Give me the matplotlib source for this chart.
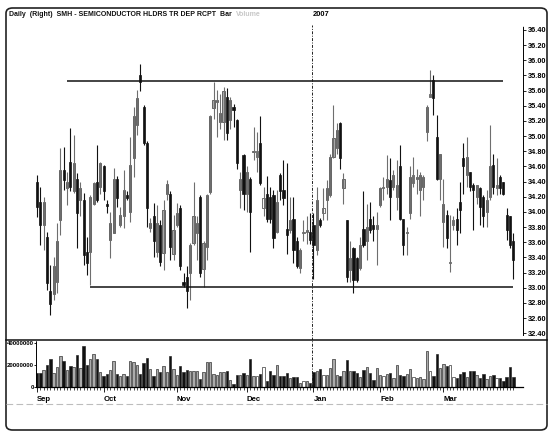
import matplotlib
matplotlib.use("Agg")
import matplotlib.pyplot as plt
from matplotlib.patches import FancyBboxPatch
from matplotlib.lines import Line2D
import numpy as np

# daily OHLC, Sep 2006 - Mar 2007
opens = [34.40, 34.13, 33.83, 33.67, 32.95, 32.92, 33.08, 33.89, 34.55, 34.31,
         34.66, 34.27, 34.44, 34.16, 34.16, 33.47, 33.47, 34.11, 34.40, 34.33,
         34.60, 34.10, 33.63, 33.72, 34.44, 33.83, 33.94, 34.22, 34.00, 34.71,
         35.15, 35.81, 35.39, 34.91, 33.79, 33.94, 33.47, 33.83, 33.46, 34.24,
         34.24, 33.45, 33.83, 34.05, 33.08, 33.14, 33.19, 33.59, 33.72, 34.20,
         33.25, 33.54, 34.26, 35.37, 35.45, 35.19, 35.19, 35.52, 35.21, 35.39,
         35.21, 34.29, 34.75, 34.24, 34.44, 34.79, 34.73, 34.91, 34.05, 34.24,
         34.20, 34.22, 33.74, 34.49, 34.29, 33.78, 33.76, 33.91, 33.61, 33.26,
         33.72, 33.74, 33.74, 33.83, 33.50, 33.89, 33.98, 34.16, 34.22, 34.73,
         34.84, 35.17, 34.31, 33.89, 33.23, 33.52, 33.39, 33.26, 33.78, 33.61,
         33.91, 33.83, 33.78, 34.09, 34.31, 34.33, 34.42, 34.33, 34.20, 34.60,
         33.91, 33.72, 33.98, 34.38, 34.44, 34.29, 34.33, 35.06, 35.52, 35.74,
         34.99, 34.44, 33.87, 33.96, 33.32, 33.83, 33.91, 34.13, 34.71, 34.49,
         34.53, 34.35, 34.20, 34.31, 34.20, 34.00, 34.20, 34.62, 34.31, 34.46,
         34.40, 33.96, 33.94, 33.61]
highs = [34.49, 34.33, 34.20, 33.74, 33.30, 33.41, 33.85, 34.84, 34.86, 34.53,
         35.11, 35.01, 34.51, 34.40, 34.25, 33.67, 34.22, 34.40, 34.88, 34.66,
         34.62, 34.16, 34.00, 34.58, 34.47, 34.07, 34.55, 34.27, 34.99, 35.39,
         35.61, 35.95, 35.41, 34.93, 33.92, 34.12, 34.09, 33.89, 34.16, 34.42,
         34.27, 33.96, 34.12, 34.09, 33.19, 33.28, 33.59, 34.40, 33.94, 34.22,
         33.61, 34.24, 35.28, 35.72, 35.61, 35.56, 35.65, 35.63, 35.52, 35.43,
         35.23, 34.53, 34.77, 34.60, 34.46, 35.12, 35.06, 35.26, 34.33, 34.48,
         34.33, 34.29, 34.29, 34.51, 34.68, 34.64, 34.20, 34.20, 33.67, 33.52,
         33.89, 33.94, 33.98, 33.98, 34.33, 33.92, 34.31, 34.42, 34.77, 35.41,
         35.17, 35.19, 34.51, 33.89, 33.61, 33.54, 33.41, 33.67, 34.27, 34.11,
         34.13, 33.94, 34.00, 34.33, 34.46, 34.75, 34.71, 34.55, 34.68, 34.88,
         33.91, 33.80, 34.60, 34.73, 34.57, 34.53, 34.49, 35.41, 35.87, 35.81,
         35.28, 34.77, 34.44, 34.02, 33.96, 33.94, 34.05, 34.40, 34.91, 34.99,
         34.53, 34.38, 34.35, 34.33, 34.22, 34.29, 35.15, 34.77, 34.71, 34.49,
         34.40, 34.05, 33.94, 33.72]
lows = [33.93, 33.56, 33.50, 32.97, 32.64, 32.84, 32.93, 33.69, 34.29, 34.09,
        34.27, 34.25, 33.52, 33.94, 33.30, 33.17, 33.03, 34.09, 34.13, 34.24,
        34.16, 33.98, 33.39, 33.72, 34.07, 33.80, 33.79, 34.16, 33.87, 34.46,
        35.01, 35.59, 34.88, 33.80, 33.74, 33.41, 33.41, 33.28, 33.23, 34.16,
        33.36, 33.36, 33.80, 33.23, 33.01, 32.73, 32.84, 33.56, 33.36, 33.14,
        33.01, 33.36, 34.24, 35.23, 34.99, 35.10, 34.95, 34.95, 35.10, 35.12,
        34.57, 34.05, 34.02, 34.00, 33.47, 34.68, 34.53, 34.35, 33.94, 33.87,
        33.85, 33.52, 33.72, 34.16, 34.09, 33.45, 33.72, 33.32, 33.26, 33.19,
        33.61, 33.58, 33.58, 33.12, 33.43, 33.80, 33.89, 33.89, 34.20, 34.71,
        34.77, 34.57, 34.11, 33.08, 33.08, 32.93, 33.08, 33.23, 33.54, 33.36,
        33.72, 33.61, 33.30, 34.07, 34.16, 34.24, 33.89, 34.29, 34.02, 33.89,
        33.43, 33.43, 33.91, 34.33, 34.24, 33.94, 34.16, 34.93, 35.52, 35.28,
        34.42, 34.16, 33.54, 33.52, 33.21, 33.76, 33.56, 33.72, 34.24, 34.33,
        34.27, 33.76, 34.11, 33.83, 33.80, 33.80, 34.16, 34.24, 34.22, 34.24,
        34.22, 33.63, 33.52, 33.12]
closes = [34.07, 33.83, 34.13, 33.06, 32.79, 33.28, 33.61, 34.55, 34.42, 34.40,
          34.33, 34.64, 33.98, 34.31, 33.43, 33.32, 34.20, 34.38, 34.16, 34.64,
          34.27, 34.08, 33.85, 34.44, 34.18, 33.96, 34.29, 34.18, 34.62, 35.26,
          35.50, 35.72, 34.91, 34.05, 33.86, 33.61, 33.85, 33.34, 34.02, 34.37,
          33.54, 33.76, 33.98, 33.28, 33.03, 32.95, 33.56, 33.94, 33.85, 33.19,
          33.59, 34.22, 35.26, 35.48, 35.46, 35.30, 35.59, 35.04, 35.48, 35.34,
          34.64, 34.44, 34.24, 34.53, 34.00, 34.80, 34.80, 34.38, 34.18, 33.91,
          33.91, 33.65, 34.13, 34.27, 34.18, 33.69, 33.89, 33.50, 33.28, 33.50,
          33.74, 33.75, 33.63, 33.56, 34.16, 33.83, 34.05, 34.31, 34.73, 34.97,
          35.08, 34.71, 34.43, 33.14, 33.39, 33.10, 33.10, 33.56, 33.56, 33.80,
          33.76, 33.78, 33.83, 34.31, 34.33, 34.44, 34.20, 34.49, 34.35, 33.91,
          33.56, 33.73, 34.46, 34.49, 34.45, 34.49, 34.46, 35.39, 35.56, 35.50,
          34.44, 34.77, 34.11, 33.65, 33.34, 33.89, 33.76, 34.02, 34.60, 34.73,
          34.33, 34.29, 34.35, 34.07, 33.94, 34.16, 34.60, 34.33, 34.35, 34.31,
          34.24, 33.76, 33.56, 33.36]
# volume in millions of shares
volume = [12.7, 12.7, 15.8, 20.3, 25.8, 12.7, 18.2, 28.5, 23.9, 15.2,
          19.4, 17.9, 29.4, 17.3, 37.6, 19.7, 25.5, 30.0, 25.5, 13.3,
          9.7, 12.1, 15.8, 23.9, 12.1, 9.7, 12.1, 9.7, 23.3, 22.7,
          19.7, 12.1, 21.8, 26.1, 16.7, 9.7, 16.4, 13.3, 18.8, 13.9,
          28.5, 16.7, 11.2, 19.4, 13.6, 15.2, 14.8, 14.5, 14.8, 7.6,
          13.6, 22.4, 22.4, 12.1, 10.9, 13.3, 13.3, 14.2, 6.7, 2.7,
          10.9, 10.9, 12.4, 10.9, 25.8, 9.7, 9.7, 12.1, 18.2, 5.8,
          14.5, 11.2, 20.3, 9.7, 10.3, 12.7, 8.2, 9.1, 9.1, 3.6,
          5.2, 5.5, 3.6, 13.3, 14.2, 16.4, 11.2, 10.6, 17.3, 25.5,
          11.2, 10.3, 14.8, 24.8, 14.2, 14.8, 12.7, 9.1, 15.8, 17.9,
          12.7, 6.7, 17.3, 11.2, 9.7, 11.8, 12.7, 8.2, 20.3, 11.2,
          10.3, 12.1, 16.4, 8.8, 8.2, 8.8, 7.6, 33.0, 14.2, 10.3,
          30.3, 17.3, 20.9, 18.8, 19.7, 9.1, 8.2, 12.1, 13.3, 9.1,
          14.2, 14.2, 11.2, 8.2, 11.8, 7.3, 10.3, 11.2, 7.9, 8.5,
          5.8, 9.1, 17.9, 9.1]
hollow_days = [66, 68, 80, 86, 104, 113, 118, 124, 125, 138]

month_labels = ['Sep', 'Oct', 'Nov', 'Dec', 'Jan', 'Feb', 'Mar']
month_starts = [0, 20, 42, 63, 83, 103, 122]
year_label = '2007'
year_start = 83
price_ticks = [32.40 + 0.20 * k for k in range(21)]
vol_ticks = [0, 20, 40]
# drawn trend lines: (price, first day, last day)
resistance = (35.73, 9, 140)
support = (33.01, 16, 143)

plt.rcParams['font.family'] = ['Liberation Sans', 'DejaVu Sans']
plt.rcParams['font.weight'] = 'bold'

W, H = 550, 437
fig = plt.figure(figsize=(W / 100, H / 100), dpi=100)

def fx(px):
    return px / W

def fy(py):
    return 1 - py / H

n = len(closes)
idx = np.arange(n)
o = np.array(opens); c = np.array(closes)
hi = np.array(highs); lo = np.array(lows)

kind = np.where(c < o, 'down', 'up').astype(object)
kind[hollow_days] = 'flat'
fill = {'down': '#111111', 'up': '#ababab', 'flat': 'white'}
wick = {'down': '#111111', 'up': '#6e6e6e', 'flat': '#6e6e6e'}
edge = {'down': '#111111', 'up': '#3a3a3a', 'flat': '#3a3a3a'}
fills = [fill[k] for k in kind]
wicks = [wick[k] for k in kind]
edges = [edge[k] for k in kind]

x_lo, x_hi = -9.3, 145.9

# price panel
ax = fig.add_axes([fx(6), fy(340), fx(523) - fx(6), fy(8) - fy(340)])
ax.vlines(idx, lo, hi, colors=wicks, linewidth=0.8)
body_h = np.maximum(np.abs(c - o), 0.02)
ax.bar(idx, body_h, bottom=np.minimum(o, c), width=0.64, color=fills,
       edgecolor=edges, linewidth=0.5)
ax.hlines(resistance[0], resistance[1], resistance[2], color='#111111', linewidth=1.1)
ax.hlines(support[0], support[1], support[2], color='#111111', linewidth=1.1)
ax.set_xlim(x_lo, x_hi)
ax.set_ylim(32.31, 36.69)
for s in ['top', 'left', 'bottom']:
    ax.spines[s].set_visible(False)
ax.spines['right'].set_linestyle((0, (1, 1)))
ax.spines['right'].set_linewidth(0.7)
ax.spines['right'].set_bounds(32.38, 36.45)
ax.yaxis.tick_right()
ax.set_yticks(price_ticks)
ax.set_yticklabels(['%.2f' % t for t in price_ticks])
ax.tick_params(axis='y', length=2, width=0.6, pad=1.5, labelsize=5.3)
ax.set_xticks([])

ax.axvline(year_start - 0.4, ymin=0.0, ymax=0.95, color='#222222', linewidth=0.7,
           dashes=(3, 1.5, 1, 1.5))
ax.text(year_start - 0.2, 36.60, year_label, fontsize=5.4, ha='left', va='center')

# volume panel
av = fig.add_axes([fx(36), fy(387), fx(523) - fx(36), fy(340) - fy(387)])
av.bar(idx, volume, width=0.72, color=fills, edgecolor='#222222', linewidth=0.45)
av.set_xlim(-0.3, x_hi)
av.set_ylim(0, 42.7)
av.axvline(year_start - 0.4, color='#222222', linewidth=0.7, dashes=(3, 1.5, 1, 1.5))
for s in ['top', 'right']:
    av.spines[s].set_visible(False)
av.spines['left'].set_linestyle((0, (1, 1)))
av.spines['left'].set_linewidth(0.7)
av.spines['left'].set_bounds(0, 41.5)
av.spines['bottom'].set_linewidth(0.9)
av.spines['bottom'].set_bounds(-0.3, 146)
av.set_yticks(vol_ticks)
av.set_yticklabels(['%d' % (v * 1000000) for v in vol_ticks])
av.tick_params(axis='y', length=1.2, width=0.6, pad=0.5, labelsize=4.4)
av.set_xticks(month_starts)
av.set_xticklabels(month_labels, ha='left')
av.set_xticks(idx, minor=True)
av.tick_params(axis='x', which='major', length=3.5, width=0.6, pad=3.2, labelsize=5.6)
av.tick_params(axis='x', which='minor', length=2, width=0.5)

# outer frame, separator, dashed footer line
fig.patches.append(FancyBboxPatch((fx(6), fy(430)), fx(547) - fx(6), fy(8) - fy(430),
                                  boxstyle='round,pad=0,rounding_size=0.012',
                                  transform=fig.transFigure, facecolor='none',
                                  edgecolor='#222222', linewidth=1.2))
fig.lines.append(Line2D([fx(6), fx(547)], [fy(340), fy(340)], transform=fig.transFigure,
                        color='#111111', linewidth=1.1))
fig.lines.append(Line2D([fx(6), fx(547)], [fy(404), fy(404)], transform=fig.transFigure,
                        color='#bdbdbd', linewidth=0.8, dashes=(6, 3)))

title = fig.text(fx(9), fy(14), 'Daily  (Right)  SMH - SEMICONDUCTOR HLDRS TR DEP RCPT  Bar',
                 fontsize=5.0, va='center', ha='left', color='#111111')
fig.canvas.draw()
tb = title.get_window_extent()
fig.text((tb.x1 + 4) / W, fy(14), 'Volume', fontsize=5.0, va='center', ha='left',
         color='#c8c8c8')

fig.savefig('out.png', dpi=100)
